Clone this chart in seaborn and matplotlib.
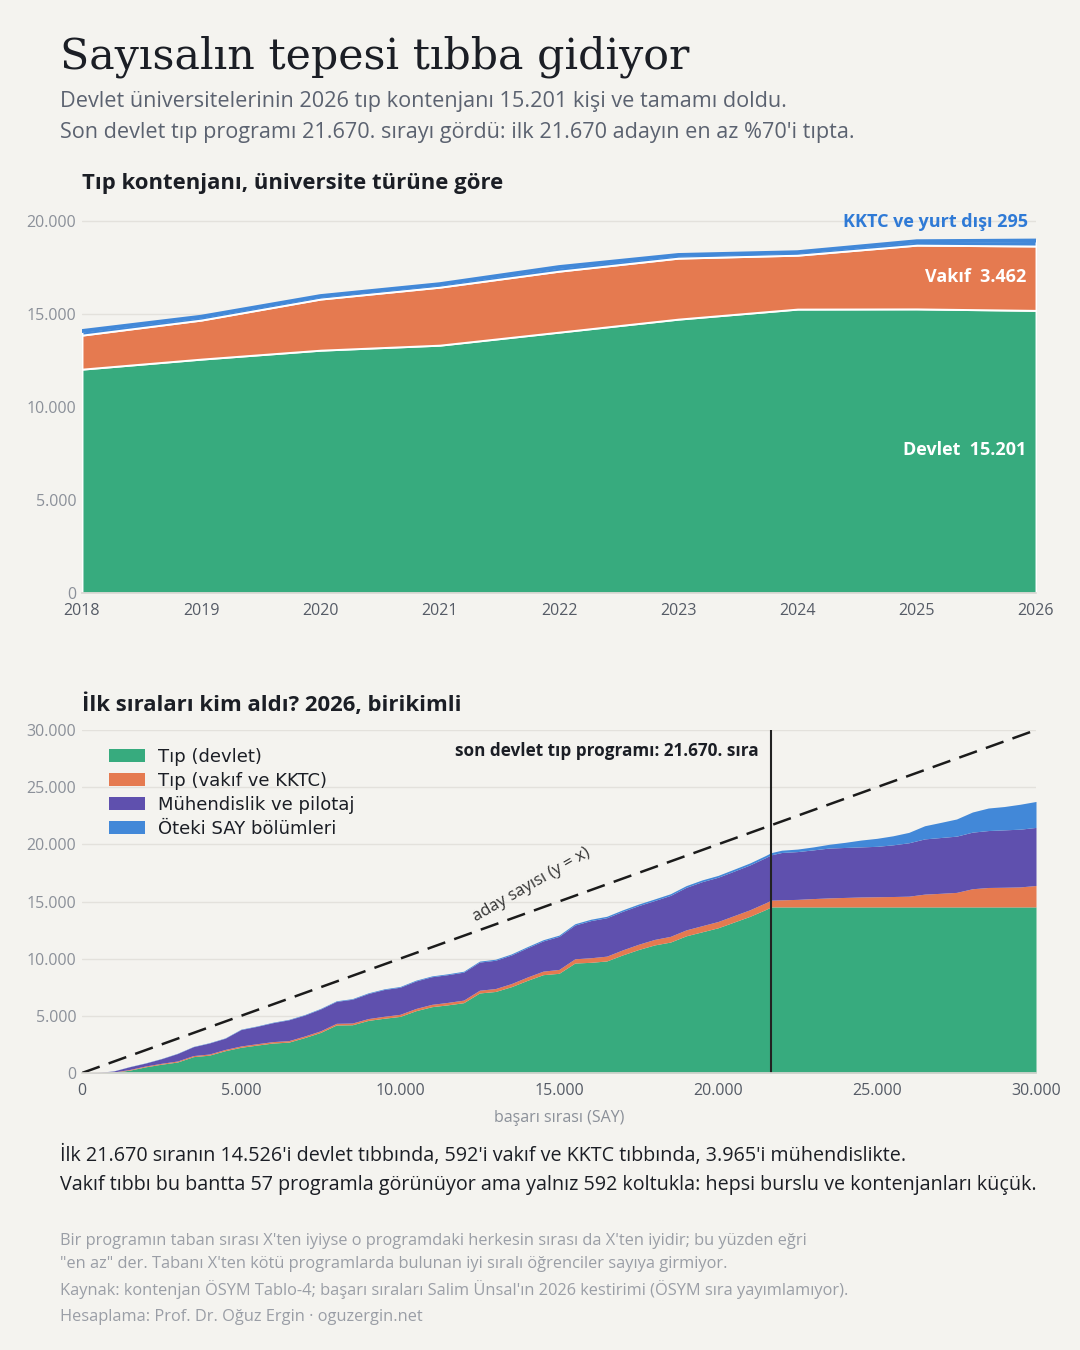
import matplotlib
matplotlib.use('Agg')
import matplotlib.pyplot as plt
from matplotlib.ticker import FuncFormatter
import seaborn as sns

# Top chart: tip kontenjani by year
years = [2018, 2019, 2020, 2021, 2022, 2023, 2024, 2025, 2026]
kont_devlet = [12040, 12580, 13060, 13330, 14030, 14730, 15270, 15280, 15201]
kont_vakif = [1830, 2100, 2750, 3120, 3280, 3280, 2900, 3430, 3462]
kont_kktc = [220, 180, 160, 160, 220, 170, 160, 210, 295]

# Bottom chart: cumulative seats among first N ranks (2026)
ranks = [0, 500, 1000, 1500, 2000, 2500, 3000, 3500, 4000, 4500,
         5000, 5500, 6000, 6500, 7000, 7500, 8000, 8500, 9000, 9500,
         10000, 10500, 11000, 11500, 12000, 12500, 13000, 13500, 14000, 14500,
         15000, 15500, 16000, 16500, 17000, 17500, 18000, 18500, 19000, 19500,
         20000, 20500, 21000, 21500, 21670, 22000, 22500, 23000, 23500, 24000,
         24500, 25000, 25500, 26000, 26500, 27000, 27500, 28000, 28500, 29000,
         29500, 30000]
tip_devlet = [0, 10, 60, 250, 540, 770, 960, 1430, 1560, 1950,
              2250, 2440, 2620, 2700, 3100, 3550, 4200, 4220, 4600, 4790,
              4950, 5450, 5800, 5960, 6150, 7000, 7130, 7550, 8100, 8600,
              8720, 9620, 9680, 9800, 10330, 10800, 11200, 11450, 12000, 12350,
              12700, 13200, 13700, 14300, 14526, 14526, 14526, 14526, 14526, 14526,
              14526, 14526, 14526, 14526, 14526, 14526, 14526, 14526, 14526, 14526,
              14526, 14526]
tip_vakif = [0, 5, 30, 60, 75, 80, 90, 95, 100, 110,
             115, 120, 125, 130, 135, 140, 145, 150, 160, 170,
             180, 195, 205, 215, 225, 240, 255, 270, 290, 310,
             340, 370, 400, 420, 440, 460, 480, 500, 520, 535,
             550, 562, 575, 588, 592, 620, 660, 730, 790, 830,
             870, 890, 910, 940, 1120, 1190, 1270, 1590, 1700, 1720,
             1750, 1874]
muhendislik = [0, 25, 90, 240, 255, 400, 650, 775, 960, 980,
               1435, 1520, 1655, 1820, 1830, 1910, 1920, 2080, 2190, 2340,
               2370, 2405, 2415, 2425, 2445, 2460, 2475, 2500, 2560, 2640,
               2890, 2950, 3250, 3360, 3370, 3380, 3400, 3580, 3720, 3850,
               3870, 3890, 3920, 3955, 3965, 4140, 4180, 4260, 4360, 4370,
               4380, 4410, 4520, 4670, 4830, 4880, 4920, 4950, 4980, 5020,
               5050, 5080]
oteki = [0, 5, 10, 15, 20, 20, 25, 25, 30, 30,
         35, 35, 40, 40, 45, 50, 50, 55, 60, 60,
         65, 70, 70, 75, 80, 85, 90, 95, 100, 105,
         110, 115, 120, 125, 130, 135, 140, 145, 150, 155,
         160, 170, 175, 185, 190, 200, 220, 260, 330, 450,
         600, 700, 790, 910, 1150, 1320, 1500, 1760, 1970, 2040,
         2180, 2270]
son_devlet_sira = 21670

legend_labels = ['Tıp (devlet)', 'Tıp (vakıf ve KKTC)', 'Mühendislik ve pilotaj', 'Öteki SAY bölümleri']

GREEN = '#37ab7e'
ORANGE = '#e57a50'
PURPLE = '#5f50ae'
BLUE = '#4288d8'
BG = '#f4f3ef'
DARK = '#1b1e25'
GRID = '#e3e1dc'

sns.set_theme(style='white')
plt.rcParams['font.family'] = ['Open Sans', 'DejaVu Sans']
plt.rcParams['axes.facecolor'] = BG
plt.rcParams['figure.facecolor'] = BG


def dotfmt(v, pos):
    return f'{int(v):,}'.replace(',', '.')


def style_axis(ax):
    for s in ['top', 'right', 'left']:
        ax.spines[s].set_visible(False)
    ax.spines['bottom'].set_color('#d8d6d1')
    ax.grid(axis='y', color=GRID, linewidth=1)
    ax.set_axisbelow(True)
    ax.tick_params(axis='both', length=0)
    ax.tick_params(axis='y', labelcolor='#8b9099', labelsize=11.5, pad=4)
    ax.tick_params(axis='x', labelcolor='#555b66', labelsize=11.5, pad=7)
    ax.yaxis.set_major_formatter(FuncFormatter(dotfmt))


fig = plt.figure(figsize=(10.8, 13.5), dpi=100)


def fy(px):
    return 1 - px / 1350


# header
fig.text(60 / 1080, fy(68), 'Sayısalın tepesi tıbba gidiyor', family='DejaVu Serif',
         fontsize=30.8, color=DARK, va='baseline')
fig.text(60 / 1080, fy(107), 'Devlet üniversitelerinin 2026 tıp kontenjanı 15.201 kişi ve tamamı doldu.',
         fontsize=15.6, color='#5b6270', va='baseline')
fig.text(60 / 1080, fy(138), "Son devlet tıp programı 21.670. sırayı gördü: ilk 21.670 adayın en az %70'i tıpta.",
         fontsize=15.6, color='#5b6270', va='baseline')

# top chart
ax1 = fig.add_axes([82 / 1080, fy(593), 954 / 1080, (593 - 210) / 1350])
ax1.stackplot(years, kont_devlet, kont_vakif, kont_kktc,
              colors=[GREEN, ORANGE, BLUE], edgecolor='white', linewidth=1.4)
kont_toplam = [a + b + c for a, b, c in zip(kont_devlet, kont_vakif, kont_kktc)]
sns.lineplot(x=years, y=kont_toplam, color=BLUE, linewidth=2.8, ax=ax1)
style_axis(ax1)
ax1.set_xlim(2018, 2026)
ax1.set_ylim(0, 20600)
ax1.set_yticks([0, 5000, 10000, 15000, 20000])
ax1.set_xticks(years)
ax1.text(2018, 20600 + 1150, 'Tıp kontenjanı, üniversite türüne göre', fontsize=15.9,
         fontweight='bold', color=DARK, va='baseline')
ax1.text(2025.93, 19970, f'KKTC ve yurt dışı {kont_kktc[-1]}', fontsize=13, fontweight='bold',
         color='#2f7ad6', ha='right', va='center')
ax1.text(2025.92, 16990, 'Vakıf  ' + dotfmt(kont_vakif[-1], 0), fontsize=13, fontweight='bold',
         color='white', ha='right', va='center')
ax1.text(2025.92, 7680, 'Devlet  ' + dotfmt(kont_devlet[-1], 0), fontsize=13, fontweight='bold',
         color='white', ha='right', va='center')

# bottom chart
ax2 = fig.add_axes([82 / 1080, fy(1073), 954 / 1080, (1073 - 730) / 1350])
ax2.stackplot(ranks, tip_devlet, tip_vakif, muhendislik, oteki,
              colors=[GREEN, ORANGE, PURPLE, BLUE], labels=legend_labels, linewidth=0)
ax2.axline((0, 0), slope=1, color='#1b1b1b', linestyle=(0, (7.5, 3.8)), linewidth=1.8)
ax2.axvline(son_devlet_sira, color='#222222', linewidth=1.5)
style_axis(ax2)
ax2.set_xlim(0, 30000)
ax2.set_ylim(0, 30000)
ax2.set_yticks([0, 5000, 10000, 15000, 20000, 25000, 30000])
ax2.set_xticks([0, 5000, 10000, 15000, 20000, 25000, 30000])
ax2.xaxis.set_major_formatter(FuncFormatter(dotfmt))
ax2.set_xlabel('başarı sırası (SAY)', fontsize=11.5, color='#8b9099', labelpad=8)
ax2.text(0, 31650, 'İlk sıraları kim aldı? 2026, birikimli', fontsize=15.9,
         fontweight='bold', color=DARK, va='baseline')
ax2.text(son_devlet_sira - 400, 28150, 'son devlet tıp programı: ' + dotfmt(son_devlet_sira, 0) + '. sıra',
         fontsize=12.3, fontweight='bold', color=DARK, ha='right', va='center')
ax2.text(14150, 16450, 'aday sayısı (y = x)', fontsize=12, color='#333333',
         rotation=30, ha='center', va='center', rotation_mode='anchor')
leg = ax2.legend(loc='upper left', bbox_to_anchor=(0.028, 0.948), frameon=False,
                 prop={'family': 'DejaVu Sans', 'size': 13}, handlelength=2.0,
                 handleheight=0.72, labelspacing=0.33, handletextpad=0.75,
                 borderaxespad=0, borderpad=0)
for t in leg.get_texts():
    t.set_color(DARK)

# footer
fig.text(60 / 1080, fy(1161), "İlk 21.670 sıranın 14.526'i devlet tıbbında, 592'i vakıf ve KKTC tıbbında, 3.965'i mühendislikte.",
         fontsize=14.2, color=DARK, va='baseline')
fig.text(60 / 1080, fy(1190), 'Vakıf tıbbı bu bantta 57 programla görünüyor ama yalnız 592 koltukla: hepsi burslu ve kontenjanları küçük.',
         fontsize=14.2, color=DARK, va='baseline')
notes = [
    (1245, "Bir programın taban sırası X'ten iyiyse o programdaki herkesin sırası da X'ten iyidir; bu yüzden eğri"),
    (1268, "\"en az\" der. Tabanı X'ten kötü programlarda bulunan iyi sıralı öğrenciler sayıya girmiyor."),
    (1295, "Kaynak: kontenjan ÖSYM Tablo-4; başarı sıraları Salim Ünsal'ın 2026 kestirimi (ÖSYM sıra yayımlamıyor)."),
    (1321, 'Hesaplama: Prof. Dr. Oğuz Ergin · oguzergin.net'),
]
for y, t in notes:
    fig.text(60 / 1080, fy(y), t, fontsize=11.75, color='#9a9ea6', va='baseline')

fig.savefig('out.png', dpi=100, facecolor=BG)
